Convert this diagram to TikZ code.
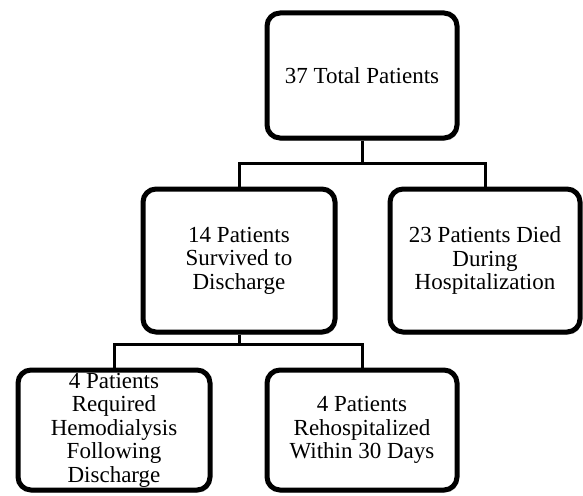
\documentclass[tikz,border=0pt]{standalone}
\usepackage{fontspec}
\setmainfont{Liberation Serif}
\usetikzlibrary{shadows}
\begin{document}
\begin{tikzpicture}[x=1pt,y=-1pt,
  box/.style={draw=black, line width=5pt, rounded corners=13pt, fill=white,
    align=center, inner sep=0pt, font=\fontsize{23}{23.5}\selectfont,
    drop shadow={shadow xshift=1.5pt, shadow yshift=-2.5pt, opacity=0.25, fill=black}},
  link/.style={draw=black, line width=3pt}]
\useasboundingbox (0,0) rectangle (583,495);
\node[box, minimum width=190pt, minimum height=125pt] (top) at (362,75.5) {37 Total Patients};
\node[box, minimum width=192pt, minimum height=143pt] (surv) at (239,260.5) {14 Patients\\Survived to\\Discharge};
\node[box, minimum width=190pt, minimum height=143pt] (died) at (485,260.5) {23 Patients Died\\During\\Hospitalization};
\node[box, minimum width=192pt, minimum height=120pt] (hemo) at (114,430) {4 Patients\\Required\\Hemodialysis\\Following\\Discharge};
\node[box, minimum width=190pt, minimum height=120pt] (rehosp) at (362,430) {4 Patients\\Rehospitalized\\Within 30 Days};
\coordinate (j1) at (362,163);
\coordinate (j2) at (239,344);
\draw[link] (top.south) -- (j1);
\draw[link] (j1) -| (surv.north);
\draw[link] (j1) -| (died.north);
\draw[link] (surv.south) -- (j2);
\draw[link] (j2) -| (hemo.north);
\draw[link] (j2) -| (rehosp.north);
\end{tikzpicture}
\end{document}
